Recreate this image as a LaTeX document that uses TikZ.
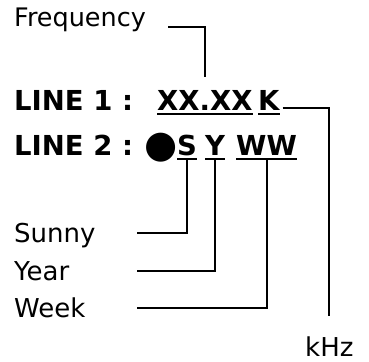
\documentclass[tikz,border=0pt]{standalone}
\usepackage{fontspec}
\setmainfont{DejaVu Sans}
\usetikzlibrary{positioning, calc}

\begin{document}
\begin{tikzpicture}[
        x=1pt, y=1pt,
        note/.style={inner sep=0pt, anchor=base west, font=\fontsize{26}{30}\selectfont},
        field/.style={inner sep=0pt, anchor=base west, font=\fontsize{27.5}{32}\selectfont\bfseries},
        wire/.style={draw, line width=2pt},
        uline/.style={draw, line width=2pt}
    ]
    \useasboundingbox (0,0) rectangle (369,-361);

    \node [note, font=\fontsize{25.5}{30}\selectfont] (freq) at (14,-27) {Frequency};

    \node [field] (line1) at (14,-110) {LINE 1 :};
    \node [field] (xx) at (157,-110) {XX.XX};
    \node [field] (k) at (258,-110) {K};

    \node [field] (line2) at (14,-155) {LINE 2 :};
    \node [field, font=\fontsize{38}{44}\selectfont] (dot) at (144,-157) {●};
    \node [field] (s) at (177,-155) {S};
    \node [field] (y) at (205,-155) {Y};
    \node [field] (ww) at (236,-155) {WW};

    \node [note] (sunny) at (14,-242) {Sunny};
    \node [note] (year) at (14,-280) {Year};
    \node [note] (week) at (14,-317) {Week};
    \node [note] (khz) at (305,-356) {kHz};

    \coordinate (bend) at (137,0);

    % underlines
    \foreach \f in {xx, k, s, y, ww}
        \path [uline] ([yshift=-4pt]\f.base west) -- ([yshift=-4pt]\f.base east);

    \path [wire] ([xshift=22pt]freq.base east) -| ([yshift=13pt]xx.north);
    \path [wire] ([shift={(3pt,2.5pt)}]k.base east) -| ([yshift=20pt]khz.north);
    \path [wire] ([yshift=-4pt]s.base) |- ($(sunny.base -| bend)+(0,9)$);
    \path [wire] ([yshift=-4pt]y.base) |- ($(year.base -| bend)+(0,9)$);
    \path [wire] ([yshift=-4pt]ww.base) |- ($(week.base -| bend)+(0,9)$);

\end{tikzpicture}
\end{document}
